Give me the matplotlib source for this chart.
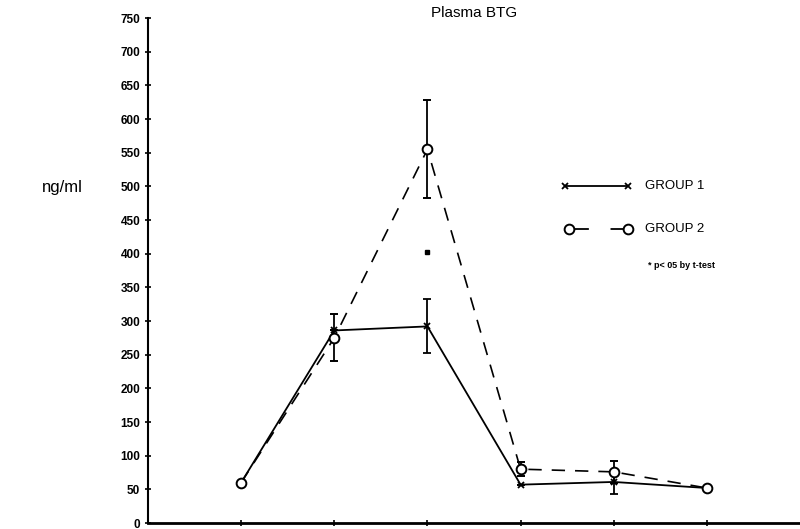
import matplotlib
matplotlib.use("Agg")
import matplotlib.pyplot as plt

# ----- data -----
time_points = [1, 2, 3, 4, 5, 6]
group1_mean = [60, 286, 292, 57, 61, 52]
group1_err = [0, 0, 40, 0, 18, 0]
group2_mean = [60, 275, 555, 80, 76, 52]
group2_err = [0, 35, 73, 10, 16, 0]
sig_x = [3]
sig_y = [402]
y_ticks = list(range(0, 751, 50))

plt.rcParams["font.family"] = ["Liberation Sans", "DejaVu Sans"]

fig = plt.figure(figsize=(8, 5.29), dpi=100)
ax = fig.add_axes([0.185, 0.0113, 0.815, 0.9546])

# group 1: solid with x markers
ax.errorbar(time_points, group1_mean, yerr=group1_err, color="black", lw=1.3,
            marker="x", ms=5, mew=1.3, capsize=3, elinewidth=1.3, capthick=1.4)
# group 2: dashed with open circles
ax.errorbar(time_points, group2_mean, yerr=group2_err, color="black", lw=1.2,
            ls=(0, (8, 6)), marker="o", ms=7, mfc="white", mew=1.4,
            capsize=3, elinewidth=1.3, capthick=1.4)
ax.plot(sig_x, sig_y, ls="none", marker="s", ms=3, color="black")

ax.set_xlim(0, 7)
ax.set_ylim(0, 750)
ax.set_yticks(y_ticks)
ax.set_yticklabels([str(v) for v in y_ticks], fontsize=8.5, fontweight="bold")
ax.set_xticks(time_points)
ax.set_xticklabels([])
ax.tick_params(axis="both", direction="inout", length=5, width=1.2, pad=3)
for s in ["top", "right"]:
    ax.spines[s].set_visible(False)
ax.spines["left"].set_linewidth(1.5)
ax.spines["bottom"].set_linewidth(2)

ax.set_title("Plasma BTG", fontsize=11, y=0.985)
fig.text(0.078, 0.645, "ng/ml", fontsize=12, ha="center", va="center")

# ----- hand drawn legend -----
tr = ax.transAxes
ax.plot([0.640, 0.736], [0.667, 0.667], color="black", lw=1.3, transform=tr,
        clip_on=False)
ax.plot([0.640, 0.736], [0.667, 0.667], ls="none", marker="x", ms=5, mew=1.3,
        color="black", transform=tr, clip_on=False)
ax.text(0.762, 0.667, "GROUP 1", fontsize=9.5, va="center", transform=tr)

ax.plot([0.645, 0.731], [0.582, 0.582], color="black", lw=1.3,
        ls=(0, (11, 12, 15, 2)), transform=tr, clip_on=False)
ax.plot([0.645, 0.736], [0.582, 0.582], ls="none", marker="o", ms=7,
        mfc="white", mew=1.4, color="black", transform=tr, clip_on=False)
ax.text(0.762, 0.582, "GROUP 2", fontsize=9.5, va="center", transform=tr)

ax.text(0.767, 0.51, "* p< 05 by t-test", fontsize=6.5, fontweight="bold",
        va="center", transform=tr)

fig.savefig("out.png", dpi=100)
